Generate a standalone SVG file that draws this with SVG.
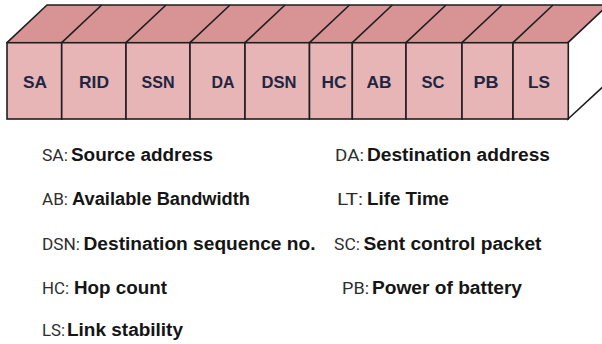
<svg xmlns="http://www.w3.org/2000/svg" width="602" height="344" viewBox="0 0 602 344">
<style>
.front{fill:#e7b5b5;stroke:#1e1e1e;stroke-width:1.6}
.top{fill:#d89494;stroke:#1e1e1e;stroke-width:1.6;stroke-linejoin:round}
.side{fill:#ffffff;stroke:#1e1e1e;stroke-width:1.6}
.edge{stroke:#1e1e1e;stroke-width:1.6;fill:none}
.cell{font-family:"Liberation Sans",Arial,sans-serif;font-weight:700;font-size:17px;fill:#1d2642;text-anchor:middle}
.abbr{font-family:Roboto,"Liberation Sans",sans-serif;font-size:16px;fill:#2e2e2e}
.desc{font-family:"Liberation Sans",Arial,sans-serif;font-weight:700;font-size:18px;fill:#151515}
</style>
<rect width="602" height="344" fill="#ffffff"/>
<g id="top-face">
<polygon class="top" points="7,42.7 47,5 612,5 568,42.7"/>
<polygon class="side" points="568,42.7 608,5 608,82 568,119"/>
</g>
<g id="connectors">
<line class="edge" x1="61.7" y1="42.7" x2="101.7" y2="5"/>
<line class="edge" x1="126" y1="42.7" x2="166" y2="5"/>
<line class="edge" x1="190" y1="42.7" x2="230" y2="5"/>
<line class="edge" x1="245" y1="42.7" x2="285" y2="5"/>
<line class="edge" x1="309.5" y1="42.7" x2="349.5" y2="5"/>
<line class="edge" x1="352.3" y1="42.7" x2="392.3" y2="5"/>
<line class="edge" x1="406" y1="42.7" x2="446" y2="5"/>
<line class="edge" x1="462" y1="42.7" x2="502" y2="5"/>
<line class="edge" x1="513" y1="42.7" x2="553" y2="5"/>
</g>
<g id="cell-SA"><rect class="front" x="7" y="42.7" width="54.7" height="76.3"/><text class="cell" x="35" y="88" textLength="24" lengthAdjust="spacingAndGlyphs">SA</text></g>
<g id="cell-RID"><rect class="front" x="61.7" y="42.7" width="64.3" height="76.3"/><text class="cell" x="94" y="88" textLength="30" lengthAdjust="spacingAndGlyphs">RID</text></g>
<g id="cell-SSN"><rect class="front" x="126" y="42.7" width="64" height="76.3"/><text class="cell" x="158" y="88" textLength="33" lengthAdjust="spacingAndGlyphs">SSN</text></g>
<g id="cell-DA"><rect class="front" x="190" y="42.7" width="55" height="76.3"/><text class="cell" x="223" y="88" textLength="23" lengthAdjust="spacingAndGlyphs">DA</text></g>
<g id="cell-DSN"><rect class="front" x="245" y="42.7" width="64.5" height="76.3"/><text class="cell" x="279" y="88" textLength="35" lengthAdjust="spacingAndGlyphs">DSN</text></g>
<g id="cell-HC"><rect class="front" x="309.5" y="42.7" width="42.8" height="76.3"/><text class="cell" x="334" y="88" textLength="25" lengthAdjust="spacingAndGlyphs">HC</text></g>
<g id="cell-AB"><rect class="front" x="352.3" y="42.7" width="53.7" height="76.3"/><text class="cell" x="379" y="88" textLength="25" lengthAdjust="spacingAndGlyphs">AB</text></g>
<g id="cell-SC"><rect class="front" x="406" y="42.7" width="56" height="76.3"/><text class="cell" x="433" y="88" textLength="23" lengthAdjust="spacingAndGlyphs">SC</text></g>
<g id="cell-PB"><rect class="front" x="462" y="42.7" width="51" height="76.3"/><text class="cell" x="486" y="88" textLength="25" lengthAdjust="spacingAndGlyphs">PB</text></g>
<g id="cell-LS"><rect class="front" x="513" y="42.7" width="55.3" height="76.3"/><text class="cell" x="539" y="88" textLength="22" lengthAdjust="spacingAndGlyphs">LS</text></g>
<g id="legend">
<text class="abbr" x="42" y="161" textLength="26" lengthAdjust="spacingAndGlyphs">SA:</text><text class="desc" x="71" y="161" textLength="142" lengthAdjust="spacingAndGlyphs">Source address</text>
<text class="abbr" x="42" y="205" textLength="26" lengthAdjust="spacingAndGlyphs">AB:</text><text class="desc" x="72" y="205" textLength="178" lengthAdjust="spacingAndGlyphs">Available Bandwidth</text>
<text class="abbr" x="42" y="250" textLength="38" lengthAdjust="spacingAndGlyphs">DSN:</text><text class="desc" x="83.5" y="250" textLength="232" lengthAdjust="spacingAndGlyphs">Destination sequence no.</text>
<text class="abbr" x="42" y="294" textLength="27" lengthAdjust="spacingAndGlyphs">HC:</text><text class="desc" x="74" y="294" textLength="93" lengthAdjust="spacingAndGlyphs">Hop count</text>
<text class="abbr" x="42" y="336" textLength="23" lengthAdjust="spacingAndGlyphs">LS:</text><text class="desc" x="67" y="336" textLength="116" lengthAdjust="spacingAndGlyphs">Link stability</text>
<text class="abbr" x="335" y="161" textLength="29" lengthAdjust="spacingAndGlyphs">DA:</text><text class="desc" x="367" y="161" textLength="183" lengthAdjust="spacingAndGlyphs">Destination address</text>
<text class="abbr" x="337" y="205" textLength="26" lengthAdjust="spacingAndGlyphs">LT:</text><text class="desc" x="367" y="205" textLength="82" lengthAdjust="spacingAndGlyphs">Life Time</text>
<text class="abbr" x="334" y="250" textLength="26" lengthAdjust="spacingAndGlyphs">SC:</text><text class="desc" x="363.5" y="250" textLength="178" lengthAdjust="spacingAndGlyphs">Sent control packet</text>
<text class="abbr" x="342" y="294" textLength="27" lengthAdjust="spacingAndGlyphs">PB:</text><text class="desc" x="372" y="294" textLength="150" lengthAdjust="spacingAndGlyphs">Power of battery</text>
</g>
</svg>
